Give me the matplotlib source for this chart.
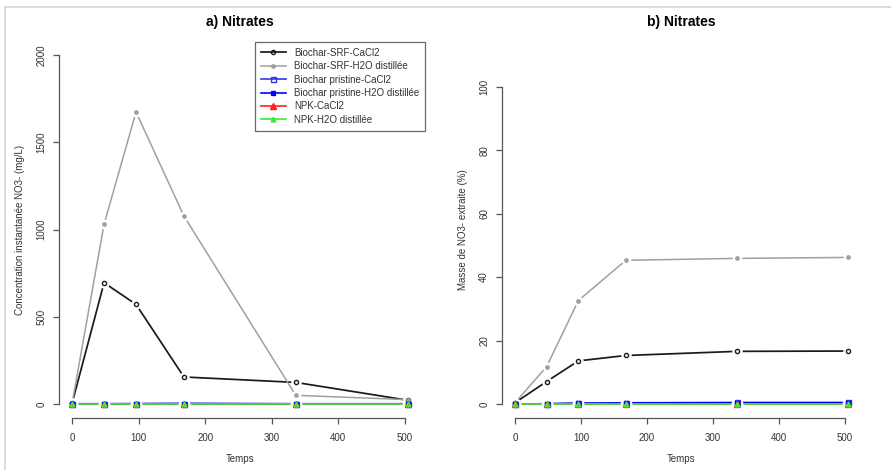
import numpy as np
import matplotlib
matplotlib.use("Agg")
import matplotlib.pyplot as plt
from matplotlib.lines import Line2D

plt.rcParams['font.family'] = ['Liberation Sans', 'DejaVu Sans']

# sampling times
temps = [0, 48, 96, 168, 336, 504]

# a) instantaneous concentration (mg/L)
srf_cacl2_conc = [5, 695, 571, 155, 124, 22]
srf_h2o_conc = [5, 1030, 1673, 1077, 50, 25]
pristine_cacl2_conc = [2, 2, 2, 3, 2, 2]
pristine_h2o_conc = [1, 1, 2, 3, 1, 1]
npk_cacl2_conc = [0, 0, 0, 0, 0, 0]
npk_h2o_conc = [0, 0, 0, 0, 0, 0]

# b) extracted mass (%)
srf_cacl2_pct = [0.4, 7.1, 13.6, 15.3, 16.6, 16.7]
srf_h2o_pct = [0.4, 11.8, 32.6, 45.3, 45.9, 46.2]
pristine_cacl2_pct = [0, 0.1, 0.3, 0.4, 0.5, 0.5]
pristine_h2o_pct = [0, 0.1, 0.2, 0.3, 0.4, 0.4]
npk_cacl2_pct = [0, 0, 0, 0, 0, 0]
npk_h2o_pct = [0, 0, 0, 0, 0, 0]

labels = ["Biochar-SRF-CaCl2", "Biochar-SRF-H2O distillée",
          "Biochar pristine-CaCl2", "Biochar pristine-H2O distillée",
          "NPK-CaCl2", "NPK-H2O distillée"]

# (color, marker, markersize, markerfacecolor, linewidth)
styles = [
    ("#1a1a1a", "o", 3.0, "none", 1.25),
    ("#a0a0a0", "o", 2.4, "#a0a0a0", 1.1),
    ("#3333ee", "s", 3.6, "none", 1.2),
    ("#0000ff", "s", 2.6, "#0000ff", 1.2),
    ("#ff2020", "^", 4.0, "#ff2020", 1.2),
    ("#33ee33", "^", 3.4, "#33ee33", 1.2),
]


def draw_b(ax, x, y, st):
    # R type="b": line with small gaps around points
    col, mk, ms, mfc, lw = st
    ax.plot(x, y, color=col, lw=lw, zorder=2)
    ax.plot(x, y, ls="none", marker="o", ms=ms + 3.5, mfc="white",
            mec="white", zorder=3)
    ax.plot(x, y, ls="none", marker=mk, ms=ms, mfc=mfc, mec=col,
            mew=1.0, zorder=4)


def style_axes(ax, ymax, ystep):
    for s in ["top", "right"]:
        ax.spines[s].set_visible(False)
    for s in ["left", "bottom"]:
        ax.spines[s].set_color("#555555")
        ax.spines[s].set_linewidth(0.9)
    ax.spines["bottom"].set_bounds(0, 500)
    ax.spines["left"].set_bounds(0, ymax)
    ax.set_xticks(np.arange(0, 501, 100))
    ax.set_yticks(np.arange(0, ymax + 1, ystep))
    ax.tick_params(axis="both", direction="out", length=4, width=0.9,
                   color="#555555", labelsize=7, labelcolor="#333333")
    ax.tick_params(axis="x", pad=7)
    ax.tick_params(axis="y", pad=5)
    for lab in ax.get_yticklabels():
        lab.set_rotation(90)
        lab.set_va("center")
    ax.set_xlim(-20.16, 524.16)
    ax.set_xlabel("Temps", fontsize=7, color="#333333", labelpad=8)


fig = plt.figure(figsize=(8.91, 4.70), dpi=100)

W, H = 891.0, 470.0
ax1 = fig.add_axes([58.7 / W, 52 / H, 362.3 / W, 377 / H])
ax2 = fig.add_axes([501.7 / W, 52 / H, 359.2 / W, 377 / H])

series_a = [srf_cacl2_conc, srf_h2o_conc, pristine_cacl2_conc,
            pristine_h2o_conc, npk_cacl2_conc, npk_h2o_conc]
series_b = [srf_cacl2_pct, srf_h2o_pct, pristine_cacl2_pct,
            pristine_h2o_pct, npk_cacl2_pct, npk_h2o_pct]

for y, st in zip(series_a, styles):
    draw_b(ax1, temps, y, st)
for y, st in zip(series_b, styles):
    draw_b(ax2, temps, y, st)

ax1.set_ylim(-80, 2080)
style_axes(ax1, 2000, 500)
ax1.set_ylabel("Concentration instantanée NO3- (mg/L)", fontsize=7,
               color="#333333", labelpad=8)
ax1.set_title("a) Nitrates", fontsize=10, fontweight="bold", pad=11)

ax2.set_ylim(-4.4, 114.4)
style_axes(ax2, 100, 20)
ax2.set_ylabel("Masse de NO3- extraite (%)", fontsize=7,
               color="#333333", labelpad=8)
ax2.set_title("b) Nitrates", fontsize=10, fontweight="bold", pad=11)

handles = [Line2D([0], [0], color=st[0], lw=st[4], marker=st[1],
                  ms=st[2], mfc=st[3], mec=st[0], mew=1.0) for st in styles]
leg = fig.legend(handles, labels, loc="upper left",
                 bbox_to_anchor=(255 / W, 1 - 42 / H), fontsize=7,
                 frameon=True, fancybox=False, handlelength=2.6,
                 labelspacing=0.35, borderpad=0.6, handletextpad=0.8,
                 borderaxespad=0)
leg.get_frame().set_edgecolor("#444444")
leg.get_frame().set_linewidth(0.9)
for t in leg.get_texts():
    t.set_color("#333333")

# screenshot frame lines
fig.add_artist(Line2D([5 / W, 1], [1 - 7 / H, 1 - 7 / H], color="#d4d4d4",
                      lw=1.2))
fig.add_artist(Line2D([5 / W, 5 / W], [0, 1 - 7 / H], color="#d4d4d4",
                      lw=1.2))

fig.savefig("out.png", dpi=100)
